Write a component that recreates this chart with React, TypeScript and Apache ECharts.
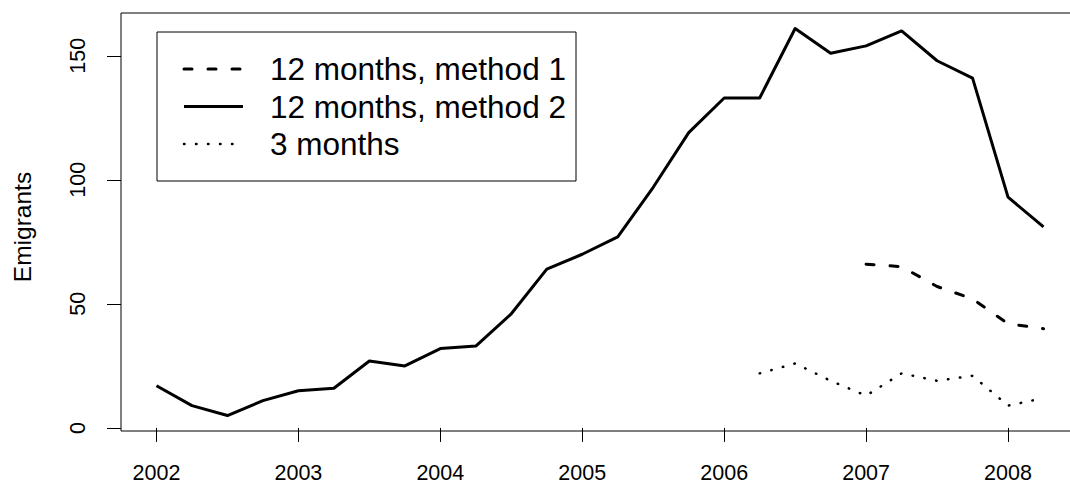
import React, { useEffect, useRef } from "react";
import * as echarts from "echarts";

// Quarterly emigrant estimates
const method2Times = [
  2002, 2002.25, 2002.5, 2002.75,
  2003, 2003.25, 2003.5, 2003.75,
  2004, 2004.25, 2004.5, 2004.75,
  2005, 2005.25, 2005.5, 2005.75,
  2006, 2006.25, 2006.5, 2006.75,
  2007, 2007.25, 2007.5, 2007.75,
  2008, 2008.25,
];
const method2Values = [
  17, 9, 5, 11,
  15, 16, 27, 25,
  32, 33, 46, 64,
  70, 77, 97, 119,
  133, 133, 161, 151,
  154, 160, 148, 141,
  93, 81,
];

const method1Times = [2007, 2007.25, 2007.5, 2007.75, 2008, 2008.25];
const method1Values = [66, 65, 57, 52, 42, 40];

const threeMonthTimes = [2006.25, 2006.5, 2006.75, 2007, 2007.25, 2007.5, 2007.75, 2008, 2008.25];
const threeMonthValues = [22, 26, 19, 13, 22, 19, 21, 9, 12];

const yearTicks = [2002, 2003, 2004, 2005, 2006, 2007, 2008];
const countTicks = [0, 50, 100, 150];

const legendLabels = ["12 months, method 1", "12 months, method 2", "3 months"];

const FONT = "'Liberation Sans', Arial, Helvetica, sans-serif";

const pairs = (xs: number[], ys: number[]) => xs.map((x, i) => [x, ys[i]]);

export default function App() {
  const ref = useRef<HTMLDivElement>(null);

  useEffect(() => {
    if (!ref.current) return;
    const chart = echarts.init(ref.current, null, { renderer: "svg" });

    // R-style 4% padding around the data range
    const allY = [...method2Values, ...method1Values, ...threeMonthValues];
    const yLo = Math.min(...allY);
    const yHi = Math.max(...allY);
    const yPad = (yHi - yLo) * 0.04;
    const allX = [...method2Times, ...method1Times, ...threeMonthTimes];
    const xLo = Math.min(...allX);
    const xHi = Math.max(...allX);
    const xPad = (xHi - xLo) * 0.04;

    const lineSeries = (name: string, data: number[][], type: any, cap: string, width: number) => ({
      name,
      type: "line",
      data,
      symbol: "none",
      silent: true,
      lineStyle: { color: "#000", width, type, cap, join: "round" },
    });

    const legendX1 = 184;
    const legendX2 = 243;
    const legendRows = [69, 106.5, 144];
    const legendDash: any[] = [[8, 16], null, [0.5, 11.5]];
    const legendWidth = [3, 3, 2.5];

    chart.setOption({
      animation: false,
      backgroundColor: "#fff",
      textStyle: { fontFamily: FONT, color: "#000" },
      grid: {
        left: 121,
        top: 13,
        width: 958,
        height: 418,
        show: true,
        borderColor: "#000",
        borderWidth: 1,
        backgroundColor: "transparent",
        outerBoundsMode: "none",
      },
      xAxis: {
        type: "value",
        min: xLo - xPad,
        max: xHi + xPad,
        splitLine: { show: false },
        axisLine: { show: false },
        axisTick: {
          show: true,
          inside: false,
          length: 14,
          customValues: yearTicks,
          lineStyle: { color: "#000", width: 1 },
        },
        axisLabel: {
          customValues: yearTicks,
          margin: 42,
          verticalAlign: "middle",
          fontSize: 21.5,
          color: "#000",
          fontFamily: FONT,
          formatter: (v: number) => String(v),
        },
      },
      yAxis: {
        type: "value",
        min: yLo - yPad,
        max: yHi + yPad,
        splitLine: { show: false },
        axisLine: { show: false },
        axisTick: {
          show: true,
          inside: false,
          length: 14,
          customValues: countTicks,
          lineStyle: { color: "#000", width: 1 },
        },
        axisLabel: {
          customValues: countTicks,
          rotate: 90,
          margin: 43.5,
          align: "center",
          verticalAlign: "middle",
          fontSize: 21.5,
          color: "#000",
          fontFamily: FONT,
          formatter: (v: number) => String(v),
        },
      },
      series: [
        lineSeries(legendLabels[0], pairs(method1Times, method1Values), [8, 16], "round", 3),
        lineSeries(legendLabels[1], pairs(method2Times, method2Values), "solid", "butt", 3),
        lineSeries(legendLabels[2], pairs(threeMonthTimes, threeMonthValues), [0.5, 11.5], "round", 2.5),
      ],
      graphic: [
        {
          type: "text",
          x: 22.5,
          y: 227,
          rotation: Math.PI / 2,
          style: {
            text: "Emigrants",
            font: `24.5px ${FONT}`,
            fill: "#000",
            align: "center",
            verticalAlign: "middle",
          },
        },
        {
          type: "group",
          children: [
            {
              type: "rect",
              shape: { x: 157, y: 32, width: 419, height: 149 },
              style: { fill: "#fff", stroke: "#000", lineWidth: 1 },
            },
            ...legendRows.map((y, i) => ({
              type: "line",
              shape: { x1: legendX1, y1: y, x2: legendX2, y2: y },
              style: {
                stroke: "#000",
                lineWidth: legendWidth[i],
                lineDash: legendDash[i] || undefined,
                lineCap: i === 1 ? "butt" : "round",
              },
            })),
            ...legendRows.map((y, i) => ({
              type: "text",
              x: 270,
              y,
              style: {
                text: legendLabels[i],
                font: `31.5px ${FONT}`,
                fill: "#000",
                align: "left",
                verticalAlign: "middle",
              },
            })),
          ],
        },
      ],
    });

    return () => chart.dispose();
  }, []);

  return (
    <div
      ref={ref}
      style={{ position: "fixed", left: 0, top: 0, width: 1070, height: 487, background: "#fff" }}
    />
  );
}
